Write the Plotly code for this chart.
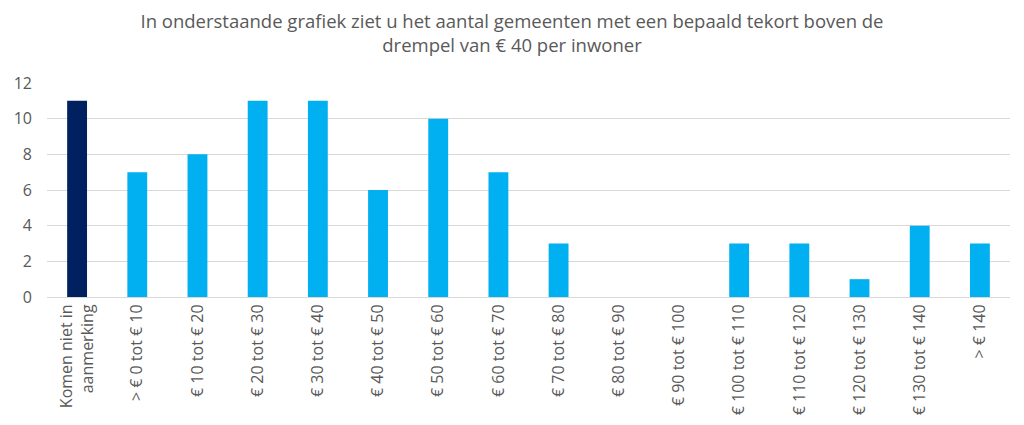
import plotly.graph_objects as go

categories = ["Komen niet in<br>aanmerking", "> € 0 tot € 10", "€ 10 tot € 20", "€ 20 tot € 30",
              "€ 30 tot € 40", "€ 40 tot € 50", "€ 50 tot € 60", "€ 60 tot € 70",
              "€ 70 tot € 80", "€ 80 tot € 90", "€ 90 tot € 100", "€ 100 tot € 110",
              "€ 110 tot € 120", "€ 120 tot € 130", "€ 130 tot € 140", "> € 140"]
values = [11, 7, 8, 11, 11, 6, 10, 7, 3, 0, 0, 3, 3, 1, 4, 3]
colors = ["#002060"] + ["#00B0F0"] * (len(values) - 1)

fig = go.Figure(go.Bar(x=categories, y=values, marker=dict(color=colors, line=dict(width=0))))

fig.update_layout(
    width=1024, height=425,
    margin=dict(l=47, r=14, t=83, b=128, autoexpand=False),
    paper_bgcolor="white", plot_bgcolor="white",
    bargap=0.67,
    showlegend=False,
    title=dict(text="In onderstaande grafiek ziet u het aantal gemeenten met een bepaald tekort boven de<br>drempel van € 40 per inwoner",
               x=0.5, xanchor="center", y=0.934, yanchor="top",
               font=dict(family="Open Sans", size=18.5, color="#595959")),
    font=dict(family="Open Sans", size=16, color="#595959"),
)
fig.update_xaxes(tickangle=-90, showline=True, linecolor="#d9d9d9", linewidth=1,
                 tickfont=dict(size=16, color="#595959"), ticks="", automargin=False)
fig.update_yaxes(range=[0, 12], dtick=2, showgrid=True, gridcolor="#d9d9d9", gridwidth=1,
                 zeroline=False, tickfont=dict(size=16, color="#595959"), ticks="",
                 ticklabelstandoff=14, automargin=False)

fig.write_html("out.html", config={"displayModeBar": False},
               post_script="document.body.style.margin='0';document.body.style.overflow='hidden';")
